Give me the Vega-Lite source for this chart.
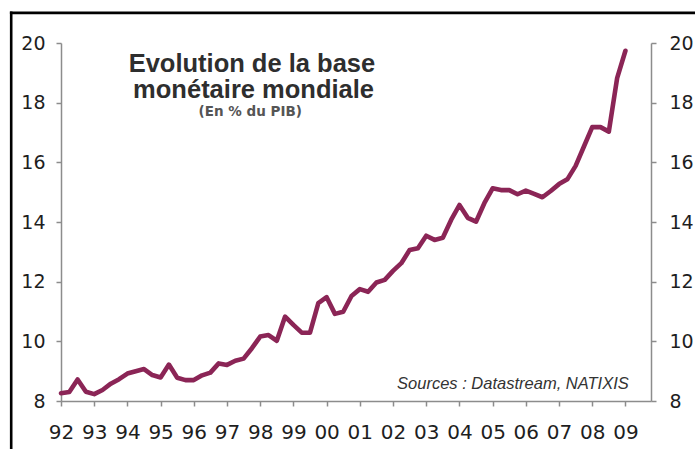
{
  "$schema": "https://vega.github.io/schema/vega-lite/v6.json",
  "width": 590,
  "height": 358,
  "autosize": {"type": "none"},
  "padding": {"left": 61, "top": 43, "right": 44, "bottom": 48},
  "background": "white",
  "config": {
    "view": {"stroke": null},
    "axis": {
      "grid": false,
      "domainColor": "#8c8c8c",
      "domainWidth": 1.5,
      "tickColor": "#8c8c8c",
      "tickWidth": 1.5,
      "tickSize": 5,
      "labelColor": "#1e1e1e",
      "labelFont": "DejaVu Sans",
      "labelFlush": false,
      "labelOverlap": false,
      "title": null
    }
  },
  "data": {
    "values": [
      {"annee": 1992.00, "base": 8.26}, {"annee": 1992.25, "base": 8.30}, {"annee": 1992.50, "base": 8.72}, {"annee": 1992.75, "base": 8.31},
      {"annee": 1993.00, "base": 8.23}, {"annee": 1993.25, "base": 8.37}, {"annee": 1993.50, "base": 8.58}, {"annee": 1993.75, "base": 8.73},
      {"annee": 1994.00, "base": 8.92}, {"annee": 1994.25, "base": 9.00}, {"annee": 1994.50, "base": 9.07}, {"annee": 1994.75, "base": 8.87},
      {"annee": 1995.00, "base": 8.79}, {"annee": 1995.25, "base": 9.22}, {"annee": 1995.50, "base": 8.78}, {"annee": 1995.75, "base": 8.70},
      {"annee": 1996.00, "base": 8.70}, {"annee": 1996.25, "base": 8.86}, {"annee": 1996.50, "base": 8.95}, {"annee": 1996.75, "base": 9.26},
      {"annee": 1997.00, "base": 9.21}, {"annee": 1997.25, "base": 9.35}, {"annee": 1997.50, "base": 9.42}, {"annee": 1997.75, "base": 9.77},
      {"annee": 1998.00, "base": 10.16}, {"annee": 1998.25, "base": 10.21}, {"annee": 1998.50, "base": 10.02}, {"annee": 1998.75, "base": 10.83},
      {"annee": 1999.00, "base": 10.55}, {"annee": 1999.25, "base": 10.29}, {"annee": 1999.50, "base": 10.29}, {"annee": 1999.75, "base": 11.28},
      {"annee": 2000.00, "base": 11.48}, {"annee": 2000.25, "base": 10.92}, {"annee": 2000.50, "base": 10.99}, {"annee": 2000.75, "base": 11.52},
      {"annee": 2001.00, "base": 11.75}, {"annee": 2001.25, "base": 11.66}, {"annee": 2001.50, "base": 11.97}, {"annee": 2001.75, "base": 12.06},
      {"annee": 2002.00, "base": 12.36}, {"annee": 2002.25, "base": 12.62}, {"annee": 2002.50, "base": 13.06}, {"annee": 2002.75, "base": 13.12},
      {"annee": 2003.00, "base": 13.54}, {"annee": 2003.25, "base": 13.40}, {"annee": 2003.50, "base": 13.47}, {"annee": 2003.75, "base": 14.07},
      {"annee": 2004.00, "base": 14.57}, {"annee": 2004.25, "base": 14.14}, {"annee": 2004.50, "base": 14.01}, {"annee": 2004.75, "base": 14.63},
      {"annee": 2005.00, "base": 15.13}, {"annee": 2005.25, "base": 15.07}, {"annee": 2005.50, "base": 15.07}, {"annee": 2005.75, "base": 14.93},
      {"annee": 2006.00, "base": 15.05}, {"annee": 2006.25, "base": 14.94}, {"annee": 2006.50, "base": 14.83}, {"annee": 2006.75, "base": 15.04},
      {"annee": 2007.00, "base": 15.27}, {"annee": 2007.25, "base": 15.43}, {"annee": 2007.50, "base": 15.88}, {"annee": 2007.75, "base": 16.53},
      {"annee": 2008.00, "base": 17.18}, {"annee": 2008.25, "base": 17.18}, {"annee": 2008.50, "base": 17.03}, {"annee": 2008.75, "base": 18.82},
      {"annee": 2009.00, "base": 19.74}
    ]
  },
  "layer": [
    {
      "mark": {"type": "line", "color": "#8B2556", "strokeWidth": 4.6, "strokeJoin": "round", "strokeCap": "round"},
      "encoding": {
        "x": {
          "field": "annee", "type": "quantitative",
          "scale": {"domain": [1992, 2009.77], "nice": false, "zero": false},
          "axis": {
            "orient": "bottom",
            "values": [1992, 1993, 1994, 1995, 1996, 1997, 1998, 1999, 2000, 2001, 2002, 2003, 2004, 2005, 2006, 2007, 2008, 2009],
            "labelExpr": "substring(toString(datum.value), 2, 4)",
            "labelFontSize": 20,
            "labelPadding": 16
          }
        },
        "y": {
          "field": "base", "type": "quantitative",
          "scale": {"domain": [8, 20], "nice": false, "zero": false},
          "axis": {"orient": "left", "values": [8, 10, 12, 14, 16, 18, 20], "labelFontSize": 19, "labelPadding": 11}
        }
      }
    },
    {
      "data": {"values": [{}]},
      "mark": {"type": "rule", "color": "black", "strokeWidth": 2.6, "strokeCap": "square"},
      "encoding": {
        "x": {"datum": 1990.5, "type": "quantitative", "axis": null},
        "y": {"datum": 21.01, "type": "quantitative", "axis": {"orient": "right", "values": [8, 10, 12, 14, 16, 18, 20], "labelFontSize": 19, "labelPadding": 13}},
        "y2": {"datum": 6}
      }
    },
    {
      "data": {"values": [{}]},
      "mark": {"type": "rule", "color": "black", "strokeWidth": 2.6, "strokeCap": "square"},
      "encoding": {
        "x": {"datum": 1990.5, "type": "quantitative", "axis": null},
        "x2": {"datum": 2011.5},
        "y": {"datum": 21.01, "type": "quantitative", "axis": null}
      }
    },
    {
      "data": {"values": [{}]},
      "mark": {"type": "text", "font": "Liberation Sans", "fontWeight": "bold", "fontSize": 25.5, "color": "#2e2e2e", "align": "center", "baseline": "alphabetic"},
      "encoding": {
        "x": {"datum": 1997.75, "type": "quantitative", "axis": null},
        "y": {"datum": 19.02, "type": "quantitative", "axis": null},
        "text": {"value": "Evolution de la base"}
      }
    },
    {
      "data": {"values": [{}]},
      "mark": {"type": "text", "font": "Liberation Sans", "fontWeight": "bold", "fontSize": 25.5, "color": "#2e2e2e", "align": "center", "baseline": "alphabetic"},
      "encoding": {
        "x": {"datum": 1997.8, "type": "quantitative", "axis": null},
        "y": {"datum": 18.14, "type": "quantitative", "axis": null},
        "text": {"value": "monétaire mondiale"}
      }
    },
    {
      "data": {"values": [{}]},
      "mark": {"type": "text", "font": "DejaVu Sans", "fontWeight": "bold", "fontSize": 13.5, "color": "#555555", "align": "center", "baseline": "alphabetic"},
      "encoding": {
        "x": {"datum": 1997.7, "type": "quantitative", "axis": null},
        "y": {"datum": 17.56, "type": "quantitative", "axis": null},
        "text": {"value": "(En % du PIB)"}
      }
    },
    {
      "data": {"values": [{}]},
      "mark": {"type": "text", "font": "Liberation Sans", "fontStyle": "italic", "fontSize": 16.5, "color": "#333333", "align": "right", "baseline": "alphabetic"},
      "encoding": {
        "x": {"datum": 2009.1, "type": "quantitative", "axis": null},
        "y": {"datum": 8.39, "type": "quantitative", "axis": null},
        "text": {"value": "Sources : Datastream, NATIXIS"}
      }
    }
  ],
  "resolve": {"axis": {"x": "independent", "y": "independent"}}
}
